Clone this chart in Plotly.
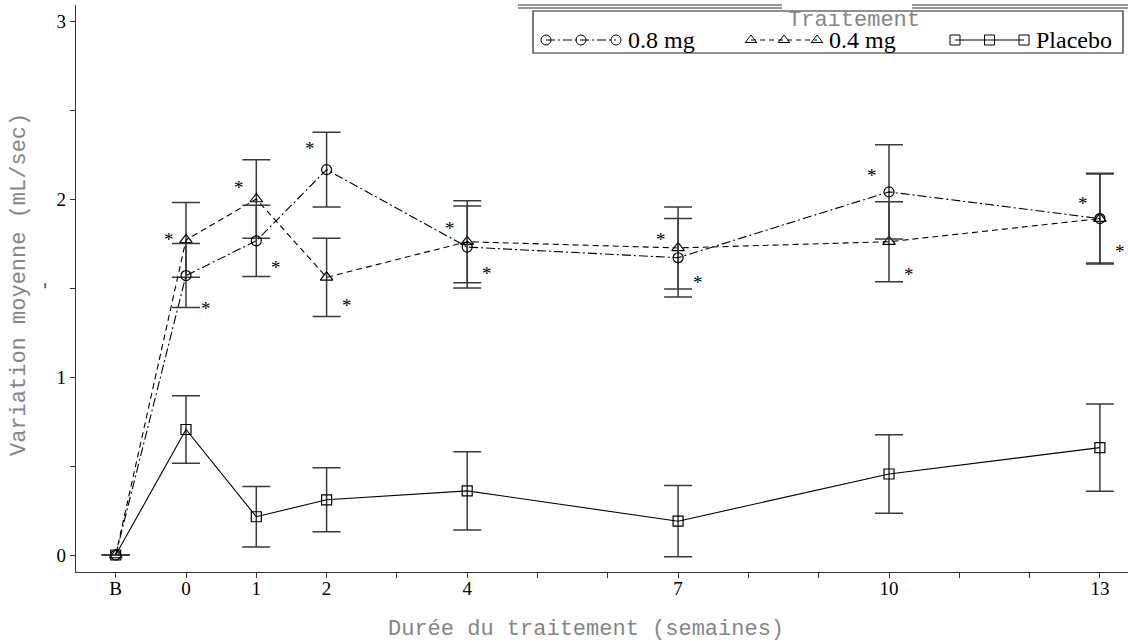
import plotly.graph_objects as go

# ---------------- data ----------------
weeks = [-1, 0, 1, 2, 4, 7, 10, 13]
week_labels = ["B", "0", "1", "2", "4", "7", "10", "13"]

mg08 = [0, 1.57, 1.765, 2.165, 1.73, 1.67, 2.04, 1.89]
se08 = [0, 0.18, 0.20, 0.21, 0.23, 0.22, 0.265, 0.255]

mg04 = [0, 1.77, 2.00, 1.56, 1.76, 1.725, 1.76, 1.89]
se04 = [0, 0.21, 0.22, 0.22, 0.23, 0.23, 0.225, 0.25]

placebo = [0, 0.705, 0.215, 0.31, 0.36, 0.19, 0.455, 0.603]
se_pl = [0, 0.19, 0.17, 0.18, 0.22, 0.20, 0.22, 0.245]

# significance asterisks (weeks 0..13), upper-left and lower-right positions
star_weeks = [0, 1, 2, 4, 7, 10, 13]
star_upper = [1.79, 2.08, 2.30, 1.85, 1.79, 2.15, 1.99]
star_lower = [1.40, 1.63, 1.42, 1.60, 1.545, 1.59, 1.72]

series_names = ["0.8 mg", "0.4 mg", "Placebo"]
legend_title = "Traitement"
x_title = "Durée du traitement (semaines)"
y_title = "Variation moyenne (mL/sec)"

# ---------------- layout constants ----------------
W, H = 1128, 643
L, R, T, B = 76, 0, 5, 71
SERIF = "Liberation Serif, Times New Roman, serif"
MONO = "Liberation Mono, Courier New, monospace"
GRAY = "#858585"
ERRC = "#3a3a3a"

fig = go.Figure()


def err(vals):
    return dict(type="data", array=vals, visible=True, color=ERRC, thickness=1.5, width=14)


fig.add_trace(go.Scatter(
    x=weeks, y=placebo, mode="lines+markers", name=series_names[2],
    line=dict(color="black", width=1.1),
    marker=dict(symbol="square-open", size=10, color="black", line=dict(width=1.2)),
    error_y=err(se_pl), showlegend=False))
fig.add_trace(go.Scatter(
    x=weeks, y=mg04, mode="lines+markers", name=series_names[1],
    line=dict(color="black", width=1.1, dash="6px,4px"),
    marker=dict(symbol="triangle-up-open", size=11, color="black", line=dict(width=1.2)),
    error_y=err(se04), showlegend=False))
fig.add_trace(go.Scatter(
    x=weeks, y=mg08, mode="lines+markers", name=series_names[0],
    line=dict(color="black", width=1.1, dash="9px,3px,2px,3px"),
    marker=dict(symbol="circle-open", size=10, color="black", line=dict(width=1.2)),
    error_y=err(se08), showlegend=False))

# asterisks
anns = []
for wk, yu, yl in zip(star_weeks, star_upper, star_lower):
    anns.append(dict(x=wk, y=yu, xref="x", yref="y", text="*", showarrow=False,
                     xshift=-17, yshift=-3, font=dict(family=SERIF, size=19, color="black")))
    anns.append(dict(x=wk, y=yl, xref="x", yref="y", text="*", showarrow=False,
                     xshift=20, yshift=-3, font=dict(family=SERIF, size=19, color="black")))

# ---- custom legend (pixel coordinates on overlay axes) ----
PW = W - L - R
PH = H - T - B


def px(x):
    return (x - L) / PW


def py(y):
    return (H - B - y) / PH


shapes = []
# legend box
shapes.append(dict(type="rect", xref="paper", yref="paper",
                   x0=px(533), x1=px(1123), y0=py(53), y1=py(11),
                   line=dict(color="#222", width=1.2), fillcolor="rgba(0,0,0,0)"))
# top double line with gap for title
for yy in (5, 8):
    for xa, xb in ((518, 782), (912, 1128)):
        shapes.append(dict(type="line", xref="paper", yref="paper",
                           x0=px(xa), x1=px(xb), y0=py(yy), y1=py(yy),
                           line=dict(color="#333", width=1)))

leg_y = 40
samples = [
    (series_names[0], 546, 616, "circle-open", "9px,3px,2px,3px", 10),
    (series_names[1], 751, 817, "triangle-up-open", "5px,4px", 10),
    (series_names[2], 955, 1024, "square-open", None, 10),
]
for name, x0, x1, sym, dash, ms in samples:
    xs = [x0, (x0 + x1) / 2, x1]
    fig.add_trace(go.Scatter(
        x=xs, y=[leg_y] * 3, xaxis="x2", yaxis="y2", mode="lines+markers",
        line=dict(color="black", width=1, dash=dash if dash else "solid"),
        marker=dict(symbol=sym, size=ms, color="black", line=dict(width=1)),
        showlegend=False, hoverinfo="skip"))
    anns.append(dict(x=x1 + 10, y=leg_y, xref="x2", yref="y2", text=name, showarrow=False,
                     xanchor="left", yanchor="middle",
                     font=dict(family=SERIF, size=24, color="black")))

anns.append(dict(x=854, y=20, xref="x2", yref="y2", text=legend_title, showarrow=False,
                 xanchor="center", yanchor="middle", font=dict(family=MONO, size=22, color=GRAY)))

# axis titles
anns.append(dict(x=px(586), y=py(629), xref="paper", yref="paper", text=x_title, showarrow=False,
                 xanchor="center", yanchor="middle", font=dict(family=MONO, size=22, color=GRAY)))
anns.append(dict(x=px(19), y=py(285), xref="paper", yref="paper", text=y_title, showarrow=False,
                 textangle=-90, xanchor="center", yanchor="middle",
                 font=dict(family=MONO, size=22, color=GRAY)))
anns.append(dict(x=px(43), y=py(286), xref="paper", yref="paper", text="-", showarrow=False,
                 textangle=-90, xanchor="center", yanchor="middle",
                 font=dict(family=SERIF, size=20, color="#555")))

ytickvals = [0, 0.5, 1, 1.5, 2, 2.5, 3]
yticktext = ["0", "", "1", "", "2", "", "3"]
xtickvals = list(range(-1, 14))
xticktext = [week_labels[weeks.index(v)] if v in weeks else "" for v in xtickvals]

y0px, y1px = 555, 377  # pixel positions of 0 and 1 (for range)
ppu = y0px - y1px
yr = [(y0px - (H - B)) / ppu, (y0px - T) / ppu]
x0px, ppw = 186, 70.3
xr = [(L - x0px) / ppw, (W - R - x0px) / ppw]

fig.update_layout(
    width=W, height=H, margin=dict(l=L, r=R, t=T, b=B),
    paper_bgcolor="white", plot_bgcolor="white",
    showlegend=False,
    xaxis=dict(range=xr, tickvals=xtickvals, ticktext=xticktext, showgrid=False, zeroline=False,
               showline=True, linecolor="#333", linewidth=1.3, ticks="outside", ticklen=5,
               tickcolor="#333", ticklabelstandoff=-6,
               tickfont=dict(family=SERIF, size=19, color="black")),
    yaxis=dict(range=yr, tickvals=ytickvals, ticktext=yticktext, showgrid=False, zeroline=False,
               showline=True, linecolor="#333", linewidth=1.3, ticks="outside", ticklen=5,
               tickcolor="#333", tickfont=dict(family=SERIF, size=19, color="black")),
    xaxis2=dict(range=[L, W - R], overlaying="x", visible=False, fixedrange=True),
    yaxis2=dict(range=[H - B, T], overlaying="y", visible=False, fixedrange=True),
    shapes=shapes, annotations=anns,
)

fig.write_html("out.html", config={"displayModeBar": False},
               post_script="document.body.style.margin='0';document.body.style.overflow='hidden';")
